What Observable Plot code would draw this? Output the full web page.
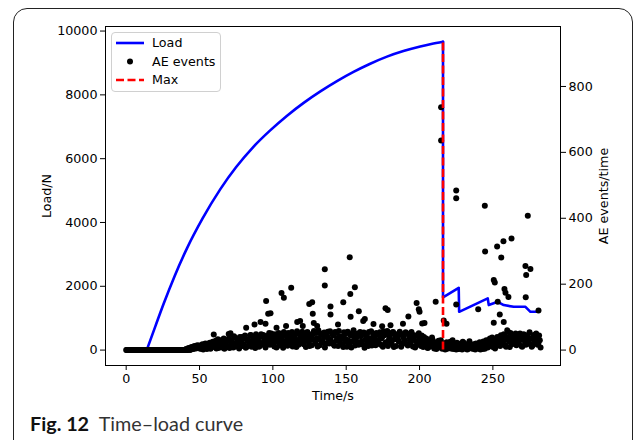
<!DOCTYPE html>
<html><head><meta charset="utf-8">
<script src="https://cdn.jsdelivr.net/npm/d3@7"></script>
<script src="https://cdn.jsdelivr.net/npm/@observablehq/plot@0.6"></script>
<style>
html,body{margin:0;padding:0;background:#fff;width:635px;height:440px;overflow:hidden;}
#frame{position:absolute;left:13px;top:8px;width:620px;height:470px;border:1.3px solid #222;border-radius:14px;box-sizing:border-box;}
#chart{position:absolute;left:0;top:0;}
#legend{position:absolute;left:111px;top:32px;width:110px;height:60px;border:1px solid #d0d0d0;border-radius:4px;background:rgba(255,255,255,0.85);box-sizing:border-box;}
#caption{position:absolute;left:30px;top:411px;font-family:Lato,"Open Sans",sans-serif;font-size:19.8px;color:#333;white-space:nowrap;}
#caption b{color:#111;}
</style></head><body>
<div id="frame"></div>
<div id="chart"></div>
<div id="legend"></div>
<div id="caption"><b>Fig. 12</b>&nbsp; Time–load curve</div>
<script>
// ---- data ----
const loadTime = [0,14,20,25.6,33,41.6,52,64.2,75,86.9,98,109.7,121,132.4,144,155,166,177.8,189,200.5,208,216,216,226.7,227,246.5,247.2,253.3,257.4,264.2,272.2,275.6,281.3];
const loadValue = [0,0,760,1460,2318,3204,4119,5046,5737,6380,6880,7348,7749,8108,8439,8720,8968,9198,9372,9516,9595,9665,1650,1953,1200,1620,1411,1514,1411,1357,1357,1200,1200];

// AE events per second (first and second half of each second), t = 0..282 s
const aeEventsA = [0,0,0,0,0,0,0,0,0,0, 0,0,0,0,0,0,0,0,0,0, 0,0,0,0,0,0,0,0,0,0, 0,0,0,0,0,0,0,0,0,0,
 0,3,0,5,2,8,4,10,6,12, 14,5,18,9,20,3,16,22,8,25, 10,28,15,6,30,18,24,4,27,12, 35,14,26,8,38,20,31,5,24,40,
 18,44,9,32,24,46,13,38,6,41, 27,12,48,22,37,8,43,30,16,50, 34,11,45,26,52,17,39,7,49,28, 13,46,31,55,20,38,9,50,26,43,
 56,18,40,29,51,12,44,33,58,21, 37,60,15,46,28,53,19,42,34,57, 24,44,13,52,36,58,21,40,9,48, 33,56,19,45,26,60,14,38,50,23,
 42,18,53,31,47,12,36,57,22,40, 15,49,28,54,35,10,45,24,58,30, 47,20,55,33,12,41,26,50,17,38, 29,52,14,40,24,48,35,8,45,20,
 36,12,28,40,18,33,8,26,14,30, 5,22,12,28,8,18,6,20,3,14, 9,25,4,11,18,2,10,4,16,2, 22,8,14,3,27,9,4,18,2,10,
 5,24,12,3,20,8,28,14,35,22, 9,30,17,40,25,12,34,20,46,10, 38,26,52,18,42,30,15,44,28,36, 10,48,22,40,32,54,35,14,46,24,
 38,20,30];
const aeEventsB = [0,0,0,0,0,0,0,0,0,0, 0,0,0,0,0,0,0,0,0,0, 0,0,0,0,0,0,0,0,0,0, 0,0,0,0,0,0,0,0,0,0,
 2,0,6,0,9,3,12,5,15,8, 4,12,2,15,7,19,10,4,21,13, 22,5,33,12,20,8,35,16,9,29, 6,30,18,42,11,34,15,40,28,12,
 36,7,28,15,45,10,34,22,48,19, 10,40,18,46,14,33,25,52,38,21, 20,48,8,36,14,44,27,55,19,41, 52,22,40,11,47,30,57,16,35,24,
 27,47,9,55,24,38,15,49,30,53, 11,32,50,23,45,8,40,56,20,30, 49,17,55,30,12,42,35,18,54,27, 10,29,48,8,52,37,44,24,16,55,
 26,50,7,44,21,55,28,14,48,33, 52,21,44,16,40,57,19,50,12,39, 25,53,9,43,48,30,56,10,44,22, 54,18,47,30,55,11,42,27,16,51,
 22,44,9,24,35,6,30,16,38,10, 16,3,25,10,30,4,15,2,24,5, 18,8,30,3,7,22,3,19,6,25, 5,12,2,20,6,15,12,3,20,6,
 16,2,8,26,4,30,8,26,12,38, 20,5,33,15,28,45,22,48,14,32, 55,9,36,45,24,50,38,20,50,12, 42,30,16,45,26,18,10,42,28,50,
 16,44,8];

// isolated, higher AE events
const aeOutlierTime = [59.7,69.9,71.1,81.8,87.5,91.6,95,95.4,96.8,98.4,102.5,105.9,107.5,109,112.5,116.6,118.6,120.4,124.8,126.8,127.2,127.9,130.2,135.4,135.4,139.3,139.3,144.4,148,152.4,152.8,155.9,153,158.6,161.6,162.7,168.6,174.5,176.8,178.3,180.2,188.7,192.4,198,199.5,200,201.8,203.4,211,214.7,214.7,216.5,218.4,225,225,225,240,244.5,244.7,250.6,251.3,250.6,252.9,253.3,254.7,255.7,257.2,257.4,257.9,258.6,259.8,260.6,262.7,272.2,272.4,272.7,273.8,275.6,281.1];
const aeOutlierValue = [47,49,51,68,78,85,80,149,110,112,68,173,159,73,189,85,88,73,140,145,110,82,73,245,196,132,108,78,145,282,170,191,101,118,88,94,79,72,127,122,75,80,102,143,124,116,81,82,147,737,636,90,80,484,461,138,124,438,299,213,205,83,314,147,108,281,330,85,185,174,60,161,339,255,160,228,408,246,120];

const maxTime = 216;
const maxLoad = 9665;

const xTicks = [0,50,100,150,200,250];
const loadTicks = [0,2000,4000,6000,8000,10000];
const aeTicks = [0,200,400,600,800];

// ---- scales ----
const xDomain = [-14.1, 296.1];
const leftDomain = [-483, 10143];
const rightDomain = [-46.8, 982];
const toLeft = v => leftDomain[0] + (v - rightDomain[0]) * (leftDomain[1]-leftDomain[0]) / (rightDomain[1]-rightDomain[0]);
const toRight = L => rightDomain[0] + (L - leftDomain[0]) * (rightDomain[1]-rightDomain[0]) / (leftDomain[1]-leftDomain[0]);

const loadRows = loadTime.map((t,i) => ({t, load: loadValue[i], i}));
const peakIndex = loadValue.indexOf(maxLoad);
const flatPart = loadRows.filter(d => d.i <= 1);
const risePart = loadRows.filter(d => d.i >= 1 && d.i <= peakIndex);
const afterPart = loadRows.filter(d => d.i >= peakIndex);

const ae = [];
aeEventsA.forEach((v,i) => ae.push({t: i, v}));
aeEventsB.forEach((v,i) => ae.push({t: i + 0.5, v}));
aeOutlierTime.forEach((t,i) => ae.push({t, v: aeOutlierValue[i]}));

const lineStyle = {x: "t", y: "load", stroke: "#0000ff", strokeWidth: 2.6};
const chart = Plot.plot({
  width: 635, height: 420,
  marginLeft: 105, marginRight: 75, marginTop: 26, marginBottom: 55,
  style: {fontFamily: "DejaVu Sans", fontSize: "12.7px", color: "#000", background: "transparent"},
  x: {domain: xDomain},
  y: {domain: leftDomain},
  marks: [
    Plot.line(flatPart, lineStyle),
    Plot.line(risePart, {...lineStyle, curve: "monotone-x"}),
    Plot.line(afterPart, lineStyle),
    Plot.dot(ae, {x: "t", y: d => toLeft(d.v), r: 3, fill: "#000", stroke: "none"}),
    Plot.ruleX([maxTime], {y1: 0, y2: maxLoad, stroke: "#ff0000", strokeWidth: 2.6, strokeDasharray: "8,3.5"}),
    Plot.axisX({ticks: xTicks, tickSize: 5, tickPadding: 3, tickFormat: d => String(d), label: "Time/s", labelAnchor: "center", labelArrow: "none", labelOffset: 34}),
    Plot.axisY({ticks: loadTicks, tickSize: 5, tickPadding: 3, tickFormat: d => String(d), label: "Load/N", labelAnchor: "center", labelArrow: "none", labelOffset: 64}),
    Plot.axisY({anchor: "right", ticks: aeTicks.map(toLeft), tickSize: 5, tickPadding: 3, tickFormat: d => String(Math.round(toRight(d))), label: "AE events/time", labelAnchor: "center", labelArrow: "none", labelOffset: 47}),
    Plot.frame({stroke: "#000", strokeWidth: 1})
  ]
});
document.getElementById("chart").appendChild(chart);

// legend
const lg = d3.select("#legend").append("svg").attr("width", 108).attr("height", 58)
  .style("font-family", "DejaVu Sans").style("font-size", "12.7px");
const items = [
  {label: "Load", kind: "line"},
  {label: "AE events", kind: "dot"},
  {label: "Max", kind: "dash"}
];
items.forEach((it, i) => {
  const y = 10 + i * 18.5;
  if (it.kind === "line") lg.append("line").attr("x1", 4).attr("x2", 32).attr("y1", y).attr("y2", y).attr("stroke", "#0000ff").attr("stroke-width", 2.6);
  if (it.kind === "dot") lg.append("circle").attr("cx", 18).attr("cy", y).attr("r", 3).attr("fill", "#000");
  if (it.kind === "dash") lg.append("line").attr("x1", 4).attr("x2", 32).attr("y1", y).attr("y2", y).attr("stroke", "#ff0000").attr("stroke-width", 2.6).attr("stroke-dasharray", "8,3.5");
  lg.append("text").attr("x", 40).attr("y", y).attr("dy", "0.35em").text(it.label);
});
</script>
</body></html>
